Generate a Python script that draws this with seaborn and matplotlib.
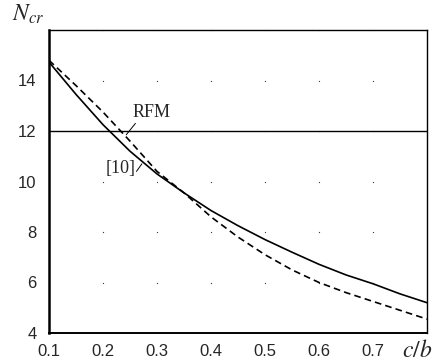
import matplotlib
matplotlib.use('Agg')
import matplotlib.pyplot as plt
import numpy as np
import pandas as pd
import seaborn as sns

# 数据：c/b 与 N_cr
cb = [0.1, 0.15, 0.2, 0.25, 0.3, 0.35, 0.4, 0.45, 0.5, 0.55, 0.6, 0.65, 0.7, 0.75, 0.8]
n_ref10 = [14.73, 13.45, 12.25, 11.2, 10.3, 9.55, 8.85, 8.25, 7.7, 7.2, 6.72, 6.3, 5.95, 5.55, 5.2]
n_dashed = [14.8, 13.8, 12.75, 11.6, 10.4, 9.55, 8.6, 7.8, 7.1, 6.5, 6.0, 5.6, 5.25, 4.9, 4.55]
n_rfm = 12.0

xticks = [0.1, 0.2, 0.3, 0.4, 0.5, 0.6, 0.7, 0.8]
xticklabels = ['0.1', '0.2', '0.3', '0.4', '0.5', '0.6', '0.7', '']
yticks = [4, 6, 8, 10, 12, 14, 16]
yticklabels = ['4', '6', '8', '10', '12', '14', '']

df = pd.DataFrame({
    'cb': cb * 2,
    'N': n_ref10 + n_dashed,
    'curve': ['[10]'] * len(cb) + ['other'] * len(cb),
})

sns.set_style('white')
plt.rcParams['font.family'] = ['Liberation Sans', 'DejaVu Sans']
plt.rcParams['mathtext.fontset'] = 'stix'

fig = plt.figure(figsize=(4.43, 3.63), dpi=100)
ax = fig.add_axes([49 / 443, 30 / 363, 378 / 443, 303 / 363])

sns.lineplot(data=df, x='cb', y='N', style='curve', color='black',
             dashes={'[10]': '', 'other': (4, 2.5)}, linewidth=1.2,
             legend=False, ax=ax)
ax.axhline(n_rfm, color='black', linewidth=1.0)

# 网格点
gx, gy = np.meshgrid(xticks[1:-1], yticks[1:])
ax.scatter(gx.ravel(), gy.ravel(), s=0.8, color='#333333', linewidths=0, zorder=1)

ax.set_xlim(0.1, 0.8)
ax.set_ylim(4, 16)
ax.set_xticks(xticks)
ax.set_xticklabels(xticklabels)
ax.set_yticks(yticks)
ax.set_yticklabels(yticklabels)
ax.set_xticks(np.arange(0.15, 0.8, 0.1), minor=True)
ax.set_yticks(np.arange(4.5, 16, 0.5), minor=True)
ax.tick_params(which='major', direction='in', length=0, labelsize=12)
ax.tick_params(axis='x', which='major', pad=8)
ax.tick_params(axis='y', which='major', pad=9)
ax.tick_params(which='minor', direction='in', length=2, width=0.8)
ax.set_xlabel('')
ax.set_ylabel('')
for s in ax.spines.values():
    s.set_color('black')
    s.set_linewidth(1.0)
ax.spines['left'].set_linewidth(1.8)
ax.spines['bottom'].set_linewidth(1.4)

# 标注
ax.text(0.29, 12.75, 'RFM', fontsize=13, family='Liberation Serif', ha='center', va='center')
ax.plot([0.243, 0.26], [11.85, 12.3], color='black', linewidth=0.7)
ax.text(0.233, 10.5, '[10]', fontsize=13, family='Liberation Serif', ha='center', va='center')
ax.plot([0.262, 0.272], [10.4, 10.7], color='black', linewidth=0.7)

fig.text(28 / 443, 1 - 14 / 363, r'$N_{cr}$', fontsize=17, ha='center', va='center')
fig.text(417 / 443, 1 - 351 / 363, r'$c/b$', fontsize=17, ha='center', va='center')

plt.savefig('out.png', dpi=100)
plt.close()
